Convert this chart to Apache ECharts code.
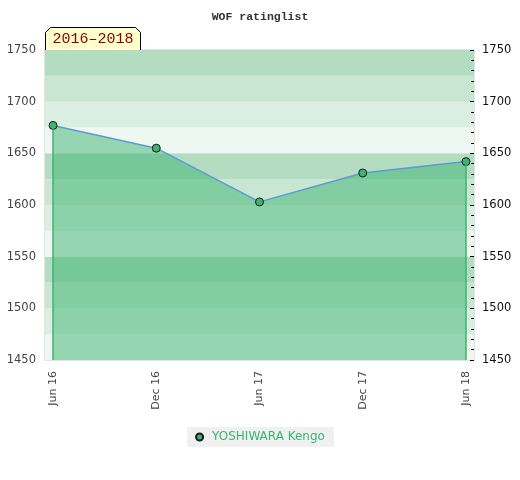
<!DOCTYPE html>
<html>
<head>
<meta charset="utf-8">
<script src="https://cdn.jsdelivr.net/npm/echarts@6/dist/echarts.min.js"></script>
<style>html,body{margin:0;padding:0;background:#fff}#c{width:520px;height:480px}</style>
</head>
<body>
<div id="c"></div>
<script>
const categories = ['Jun 16', 'Dec 16', 'Jun 17', 'Dec 17', 'Jun 18'];
const ratings = [1677, 1655, 1603, 1631, 1642];
const yTicks = [1450, 1500, 1550, 1600, 1650, 1700, 1750];
const seriesName = 'YOSHIWARA Kengo';
const periodLabel = '2016\u20132018';

const yMin = yTicks[0], yMax = yTicks[yTicks.length - 1];
const idx = categories.map((_, i) => i);
const data = ratings.map((v, i) => [i, v]);
const last = categories.length - 1;
const plain = v => String(v);

const chart = echarts.init(document.getElementById('c'));
chart.setOption({
  animation: false,
  title: {
    text: 'WOF ratinglist', left: 'center', top: 6,
    textStyle: { fontFamily: 'Liberation Mono', fontWeight: 'bold', fontSize: 11.5, color: '#333' }
  },
  legend: {
    bottom: 33, left: 'center',
    backgroundColor: '#f0f0f0',
    padding: [4, 9, 4, 8],
    itemWidth: 7, itemHeight: 7,
    icon: 'circle',
    textStyle: { color: '#3cb371', fontFamily: 'DejaVu Sans', fontSize: 12, padding: [0, 0, 0, 4] },
    data: [seriesName]
  },
  grid: { left: 45, right: 46, top: 50, bottom: 120, show: true, borderColor: '#dcdcdc', borderWidth: 1.5, backgroundColor: 'transparent' },
  xAxis: {
    type: 'value', min: -0.078, max: last + 0.078,
    axisLine: { show: false }, axisTick: { show: false }, splitLine: { show: false },
    axisLabel: {
      customValues: idx, rotate: 90, margin: 11, color: '#444',
      fontFamily: 'DejaVu Sans', fontSize: 11,
      formatter: v => categories[Math.round(v)] || ''
    }
  },
  yAxis: [
    {
      type: 'value', position: 'left', min: yMin, max: yMax, interval: 50,
      axisLine: { show: false }, axisTick: { show: false },
      axisLabel: { color: '#444', fontFamily: 'DejaVu Sans', fontSize: 11.5, margin: 9, formatter: plain },
      splitLine: { show: false }
    },
    {
      type: 'value', position: 'right', min: yMin, max: yMax, interval: 50,
      axisLine: { show: false },
      axisTick: { show: true, inside: true, length: 4, lineStyle: { color: '#000' } },
      minorTick: { show: true, splitNumber: 5, length: 3, lineStyle: { color: '#000' } },
      axisLabel: { color: '#111', fontFamily: 'DejaVu Sans', fontSize: 11.5, margin: 8, formatter: plain },
      splitLine: { show: false }
    },
    {
      type: 'value', position: 'left', min: yMin, max: yMax, interval: 25,
      axisLine: { show: false }, axisTick: { show: false }, axisLabel: { show: false },
      splitLine: { show: false },
      splitArea: { show: true, areaStyle: { color: ['#eef7f1', '#dbeee2', '#c8e6d2', '#b3dcc1'] } }
    }
  ],
  series: [{
    name: seriesName, type: 'line', data: data, yAxisIndex: 0,
    symbol: 'circle', symbolSize: 8,
    itemStyle: { color: '#3cb371', borderColor: '#1a1a1a', borderWidth: 1 },
    lineStyle: { color: '#5b9bd5', width: 1.5 },
    areaStyle: { color: 'rgb(60,179,113)', opacity: 0.5, origin: 'start' },
    markLine: {
      silent: true, symbol: 'none', label: { show: false },
      lineStyle: { color: '#3cb371', type: 'solid', width: 1.5 },
      data: [
        [{ coord: [0, ratings[0]] }, { coord: [0, yMin] }],
        [{ coord: [last, ratings[last]] }, { coord: [last, yMin] }]
      ]
    }
  }],
  graphic: [{
    type: 'group', left: 45, top: 27,
    children: [
      { type: 'polygon', shape: { points: [[0, 23], [0, 5], [5, 0], [90, 0], [95, 5], [95, 23]] },
        style: { fill: '#ffffcc', stroke: '#000', lineWidth: 1 } },
      { type: 'text', x: 7, y: 12,
        style: { text: periodLabel, fill: '#8b0000', font: '15px "Liberation Mono"', textVerticalAlign: 'middle' } }
    ]
  }]
});
</script>
</body>
</html>
